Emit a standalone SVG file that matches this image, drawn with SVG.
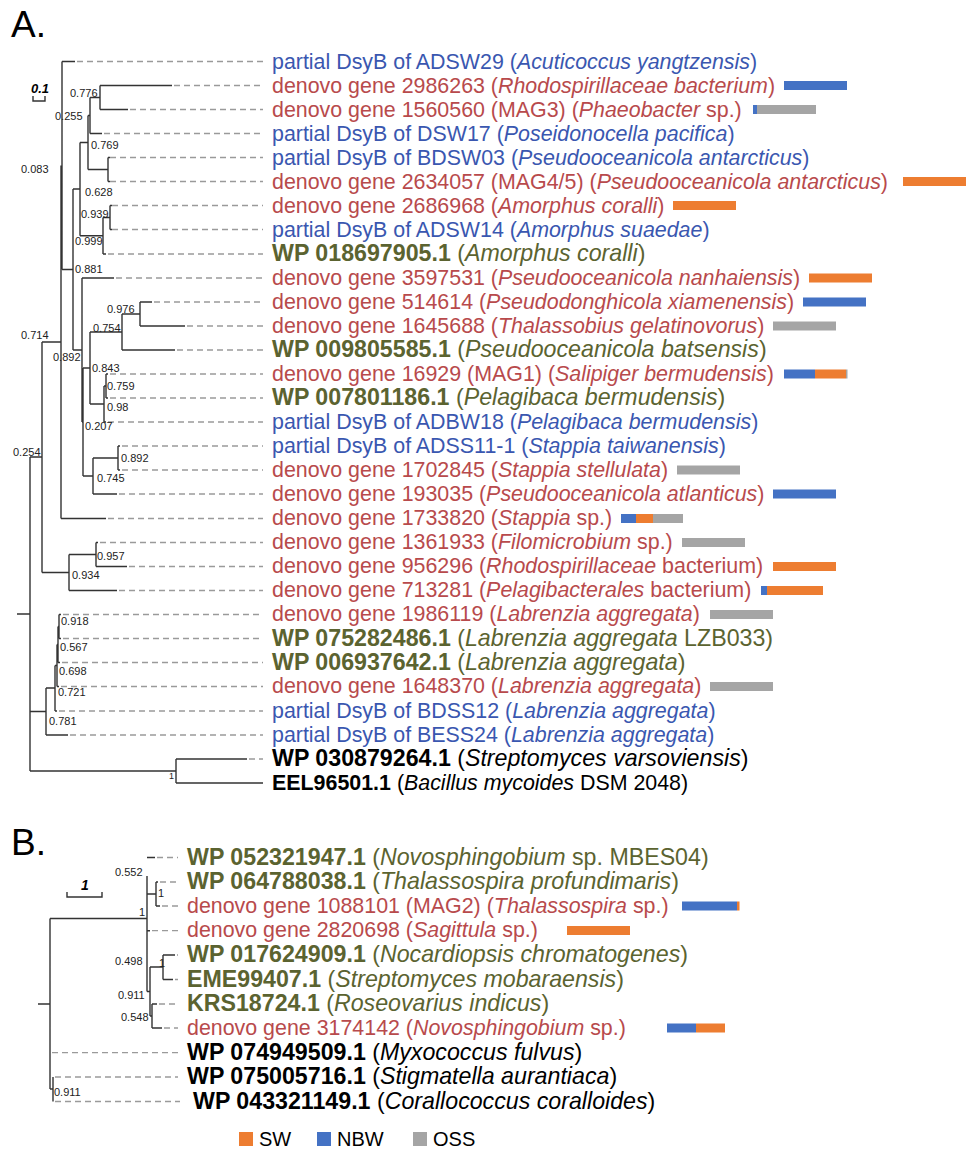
<svg xmlns="http://www.w3.org/2000/svg" width="975" height="1155" viewBox="0 0 975 1155">
<style>
.t{font-family:"Liberation Sans",Arial,sans-serif;font-size:21.4px}
.big{font-size:23.2px}
.b{font-weight:bold}
.i{font-style:italic}
.red{fill:#B84A4C}
.blu{fill:#3A57B0}
.olv{fill:#5B6330}
.blk{fill:#000}
.n{font-family:"Liberation Sans",Arial,sans-serif;font-size:11px;fill:#222}
.br{fill:none;stroke:#333;stroke-width:1.4}
.ds{fill:none;stroke:#9a9a9a;stroke-width:1.3;stroke-dasharray:6 4}
.sw{fill:#ED7D31}
.nb{fill:#4472C4}
.os{fill:#A5A5A5}
.hd{font-family:"Liberation Sans",Arial,sans-serif;font-size:37px;fill:#000}
.lg{font-family:"Liberation Sans",Arial,sans-serif;font-size:20px;fill:#000}
</style>
<text class="hd" x="11" y="37">A.</text>
<text class="hd" x="11" y="855">B.</text>
<g id="scaleA">
<text x="31" y="93" style="font-family:'Liberation Sans',Arial,sans-serif;font-size:13px;font-weight:bold;font-style:italic">0.1</text>
<path class="br" d="M33 96V101H45V96"/>
</g>
<g id="scaleB">
<text x="81" y="890" style="font-family:'Liberation Sans',Arial,sans-serif;font-size:14px;font-weight:bold;font-style:italic">1</text>
<path class="br" d="M67 892V897H102V892"/>
</g>
<g id="connectors">
<path class="br" d="M17 614H30M30 457V771M30 457H42M42 342V572.5M42 342H61M61 165.5V518.5M61 518.5H106M62 61.5V269.5M62 61.5H75M62 269.5H73M73 189V350M73 189H80M80 142.5V235.75M80 142.5H88M88 115.5V169.5M88 115.5H90M90 97.5V133.5M90 97.5H100M100 85.5V109.5M100 85.5H172M100 109.5H128M90 133.5H102M88 169.5H108M108 157.5V181.5M108 157.5H110M108 181.5H110M80 235.75H103M103 217.5V254M103 217.5H110M110 205.5V229.5M110 205.5H112M110 229.5H112M103 254H106"/>
<path class="br" d="M73 350H82M82 278V422M82 278H114M82 422H83M83 368V476M83 368H90M90 332V404M90 332H122M122 314V350M122 314H140M140 302V326M140 302H152M140 326H185M122 350H175M90 404H104M104 386V422M104 386H106M106 374V398M106 374H108M106 398H108M104 422H106M83 476H93M93 458V494M93 458H118M118 446V470M118 446H120M118 470H120M93 494H117"/>
<path class="br" d="M42 572.5H69M69 554.5V590.5M69 554.5H96M96 542.5V566.5M96 542.5H98M96 566.5H127M69 590.5H117"/>
<path class="br" d="M30 711.5H46M46 688V735M46 735H68M46 688H55M55 665.5V711M55 711H57M55 665.5H57M57 644.5V686.5M57 686.5H59M57 644.5H58M58 626.5V662.5M58 662.5H60M58 626.5H59M59 614.5V638.5M59 614.5H61M59 638.5H61"/>
<path class="br" d="M30 771H176M176 759V783M176 759H247M176 783H263"/>
<path class="ds" d="M77 61.5H263M174 85.5H263M130 109.5H263M104 133.5H263M110 157.5H263M110 181.5H263M112 205.5H263M112 229.5H263M108 254H263M116 278H263M154 302H263M187 326H263M177 350H263M110 374H263M110 398H263M108 422H263M122 446H263M122 470H263M119 494H263M108 518.5H263M100 542.5H263M129 566.5H263M119 590.5H263M63 614.5H263M63 638.5H263M62 662.5H263M61 686.5H263M59 711H263M70 735H263M249 759H263"/>
<path class="br" d="M38 1004H50M50 918.5V1089M50 918.5H147M50 1089H53M53 1077V1101.5M147 876V991.5M147 857.5H155M147 894H156M156 882V906M156 882H158M156 906H160M147 930.7H150M147 991.5H150M150 967V1016M150 967H163M163 955V979.5M163 955H175M163 979.5H173M150 1016H152M152 1004V1028M152 1004H157M152 1028H162"/>
<path class="ds" d="M157 857.5H178M160 882H178M162 906H178M152 930.7H178M177 955H178M175 979.5H178M159 1004H178M164 1028H178M52 1052.7H178M55 1077H178M55 1101.5H180"/>
</g>
<g id="nodelabels">
<text class="n" x="70" y="97">0.776</text>
<text class="n" x="55" y="120">0.255</text>
<text class="n" x="91" y="149">0.769</text>
<text class="n" x="21" y="173">0.083</text>
<text class="n" x="85" y="196">0.628</text>
<text class="n" x="81" y="218">0.939</text>
<text class="n" x="75" y="245">0.999</text>
<text class="n" x="75" y="273">0.881</text>
<text class="n" x="107" y="313">0.976</text>
<text class="n" x="93" y="332">0.754</text>
<text class="n" x="21" y="339">0.714</text>
<text class="n" x="53" y="361">0.892</text>
<text class="n" x="92" y="372">0.843</text>
<text class="n" x="107" y="390">0.759</text>
<text class="n" x="107" y="411">0.98</text>
<text class="n" x="85" y="430">0.207</text>
<text class="n" x="13" y="456">0.254</text>
<text class="n" x="121" y="462">0.892</text>
<text class="n" x="97" y="482">0.745</text>
<text class="n" x="97" y="560">0.957</text>
<text class="n" x="72" y="579">0.934</text>
<text class="n" x="61" y="625">0.918</text>
<text class="n" x="60" y="651">0.567</text>
<text class="n" x="59" y="675">0.698</text>
<text class="n" x="58" y="696">0.721</text>
<text class="n" x="49" y="725">0.781</text>
<text class="n" x="169" y="779" style="font-size:9px">1</text>
<text class="n" x="115" y="876">0.552</text>
<text class="n" x="158" y="897">1</text>
<text class="n" x="139" y="916">1</text>
<text class="n" x="115" y="965">0.498</text>
<text class="n" x="159" y="967">1</text>
<text class="n" x="118" y="999">0.911</text>
<text class="n" x="121" y="1021">0.548</text>
<text class="n" x="54" y="1096">0.911</text>
</g>
<g id="leavesA">
<g id="a1"><text class="t blu" x="272" y="68.5">partial DsyB of ADSW29 (<tspan class="i">Acuticoccus yangtzensis</tspan>)</text></g>
<g id="a2"><text class="t red" x="272" y="92.5">denovo gene 2986263 (<tspan class="i">Rhodospirillaceae bacterium</tspan>)</text><rect class="nb" x="784" y="81" width="63" height="9"/></g>
<g id="a3"><text class="t red" x="272" y="116.5">denovo gene 1560560 (MAG3) (<tspan class="i">Phaeobacter</tspan> sp.)</text><rect class="nb" x="753" y="105" width="4" height="9"/><rect class="os" x="757" y="105" width="59" height="9"/></g>
<g id="a4"><text class="t blu" x="272" y="140.5">partial DsyB of DSW17 (<tspan class="i">Poseidonocella pacifica</tspan>)</text></g>
<g id="a5"><text class="t blu" x="272" y="164.5">partial DsyB of BDSW03 (<tspan class="i">Pseudooceanicola antarcticus</tspan>)</text></g>
<g id="a6"><text class="t red" x="272" y="188.5">denovo gene 2634057 (MAG4/5) (<tspan class="i">Pseudooceanicola antarcticus</tspan>)</text><rect class="sw" x="903" y="177" width="63" height="9"/></g>
<g id="a7"><text class="t red" x="272" y="212.5">denovo gene 2686968 (<tspan class="i">Amorphus coralli</tspan>)</text><rect class="sw" x="673" y="201" width="63" height="9"/></g>
<g id="a8"><text class="t blu" x="272" y="236.5">partial DsyB of ADSW14 (<tspan class="i">Amorphus suaedae</tspan>)</text></g>
<g id="a9"><text class="t big olv" x="272" y="261"><tspan class="b">WP 018697905.1</tspan> (<tspan class="i">Amorphus coralli</tspan>)</text></g>
<g id="a10"><text class="t red" x="272" y="284.5">denovo gene 3597531 (<tspan class="i">Pseudooceanicola nanhaiensis</tspan>)</text><rect class="sw" x="809" y="273.5" width="63" height="9"/></g>
<g id="a11"><text class="t red" x="272" y="308.5">denovo gene 514614 (<tspan class="i">Pseudodonghicola xiamenensis</tspan>)</text><rect class="nb" x="803" y="297.5" width="63" height="9"/></g>
<g id="a12"><text class="t red" x="272" y="332.5">denovo gene 1645688 (<tspan class="i">Thalassobius gelatinovorus</tspan>)</text><rect class="os" x="773" y="321.5" width="63" height="9"/></g>
<g id="a13"><text class="t big olv" x="272" y="357"><tspan class="b">WP 009805585.1</tspan> (<tspan class="i">Pseudooceanicola batsensis</tspan>)</text></g>
<g id="a14"><text class="t red" x="272" y="380.5">denovo gene 16929 (MAG1) (<tspan class="i">Salipiger bermudensis</tspan>)</text><rect class="nb" x="784" y="369.5" width="31" height="9"/><rect class="sw" x="815" y="369.5" width="31" height="9"/><rect class="os" x="846" y="369.5" width="1.5" height="9"/></g>
<g id="a15"><text class="t big olv" x="272" y="405"><tspan class="b">WP 007801186.1</tspan> (<tspan class="i">Pelagibaca bermudensis</tspan>)</text></g>
<g id="a16"><text class="t blu" x="272" y="428.5">partial DsyB of ADBW18 (<tspan class="i">Pelagibaca bermudensis</tspan>)</text></g>
<g id="a17"><text class="t blu" x="272" y="452.5">partial DsyB of ADSS11-1 (<tspan class="i">Stappia taiwanensis</tspan>)</text></g>
<g id="a18"><text class="t red" x="272" y="476.5">denovo gene 1702845 (<tspan class="i">Stappia stellulata</tspan>)</text><rect class="os" x="677" y="465.5" width="63" height="9"/></g>
<g id="a19"><text class="t red" x="272" y="500.5">denovo gene 193035 (<tspan class="i">Pseudooceanicola atlanticus</tspan>)</text><rect class="nb" x="773" y="489.5" width="63" height="9"/></g>
<g id="a20"><text class="t red" x="272" y="525">denovo gene 1733820 (<tspan class="i">Stappia</tspan> sp.)</text><rect class="nb" x="621" y="514" width="15" height="9"/><rect class="sw" x="636" y="514" width="17" height="9"/><rect class="os" x="653" y="514" width="30" height="9"/></g>
<g id="a21"><text class="t red" x="272" y="549">denovo gene 1361933 (<tspan class="i">Filomicrobium</tspan> sp.)</text><rect class="os" x="682" y="538" width="63" height="9"/></g>
<g id="a22"><text class="t red" x="272" y="573">denovo gene 956296 (<tspan class="i">Rhodospirillaceae</tspan> bacterium)</text><rect class="sw" x="773" y="562" width="63" height="9"/></g>
<g id="a23"><text class="t red" x="272" y="597">denovo gene 713281 (<tspan class="i">Pelagibacterales</tspan> bacterium)</text><rect class="nb" x="761" y="586" width="6" height="9"/><rect class="sw" x="767" y="586" width="56" height="9"/></g>
<g id="a24"><text class="t red" x="272" y="621">denovo gene 1986119 (<tspan class="i">Labrenzia aggregata</tspan>)</text><rect class="os" x="710" y="610" width="63" height="9"/></g>
<g id="a25"><text class="t big olv" x="272" y="645.5"><tspan class="b">WP 075282486.1</tspan> (<tspan class="i">Labrenzia aggregata</tspan> LZB033)</text></g>
<g id="a26"><text class="t big olv" x="272" y="669.5"><tspan class="b">WP 006937642.1</tspan> (<tspan class="i">Labrenzia aggregata</tspan>)</text></g>
<g id="a27"><text class="t red" x="272" y="693">denovo gene 1648370 (<tspan class="i">Labrenzia aggregata</tspan>)</text><rect class="os" x="710" y="682" width="63" height="9"/></g>
<g id="a28"><text class="t blu" x="272" y="717.5">partial DsyB of BDSS12 (<tspan class="i">Labrenzia aggregata</tspan>)</text></g>
<g id="a29"><text class="t blu" x="272" y="741.5">partial DsyB of BESS24 (<tspan class="i">Labrenzia aggregata</tspan>)</text></g>
<g id="a30"><text class="t big blk" x="272" y="766"><tspan class="b">WP 030879264.1</tspan> (<tspan class="i">Streptomyces varsoviensis</tspan>)</text></g>
<g id="a31"><text class="t blk" x="272" y="789.5"><tspan class="b">EEL96501.1</tspan> (<tspan class="i">Bacillus mycoides</tspan> DSM 2048)</text></g>
</g>
<g id="leavesB">
<g id="b1"><text class="t big olv" x="187" y="864.5"><tspan class="b">WP 052321947.1</tspan> (<tspan class="i">Novosphingobium</tspan> sp. MBES04)</text></g>
<g id="b2"><text class="t big olv" x="187" y="889"><tspan class="b">WP 064788038.1</tspan> (<tspan class="i">Thalassospira profundimaris</tspan>)</text></g>
<g id="b3"><text class="t red" x="187" y="912.5">denovo gene 1088101 (MAG2) (<tspan class="i">Thalassospira</tspan> sp.)</text><rect class="nb" x="682" y="901.5" width="55" height="9"/><rect class="sw" x="737" y="901.5" width="2.5" height="9"/></g>
<g id="b4"><text class="t red" x="187" y="937.2">denovo gene 2820698 (<tspan class="i">Sagittula</tspan> sp.)</text><rect class="sw" x="567" y="926" width="63" height="9"/></g>
<g id="b5"><text class="t big olv" x="187" y="962"><tspan class="b">WP 017624909.1</tspan> (<tspan class="i">Nocardiopsis chromatogenes</tspan>)</text></g>
<g id="b6"><text class="t big olv" x="187" y="986.5"><tspan class="b">EME99407.1</tspan> (<tspan class="i">Streptomyces mobaraensis</tspan>)</text></g>
<g id="b7"><text class="t big olv" x="187" y="1011"><tspan class="b">KRS18724.1</tspan> (<tspan class="i">Roseovarius indicus</tspan>)</text></g>
<g id="b8"><text class="t red" x="187" y="1034.5">denovo gene 3174142 (<tspan class="i">Novosphingobium</tspan> sp.)</text><rect class="nb" x="667" y="1023.5" width="29" height="9"/><rect class="sw" x="696" y="1023.5" width="29" height="9"/></g>
<g id="b9"><text class="t big blk" x="187" y="1059.5"><tspan class="b">WP 074949509.1</tspan> (<tspan class="i">Myxococcus fulvus</tspan>)</text></g>
<g id="b10"><text class="t big blk" x="187" y="1084"><tspan class="b">WP 075005716.1</tspan> (<tspan class="i">Stigmatella aurantiaca</tspan>)</text></g>
<g id="b11"><text class="t big blk" x="193" y="1108.5"><tspan class="b">WP 043321149.1</tspan> (<tspan class="i">Corallococcus coralloides</tspan>)</text></g>
</g>
<g id="legend">
<rect class="sw" x="239" y="1132" width="14" height="14"/><text class="lg" x="259" y="1146">SW</text>
<rect class="nb" x="317" y="1132" width="14" height="14"/><text class="lg" x="337" y="1146">NBW</text>
<rect class="os" x="413" y="1132" width="14" height="14"/><text class="lg" x="433" y="1146">OSS</text>
</g>
</svg>
